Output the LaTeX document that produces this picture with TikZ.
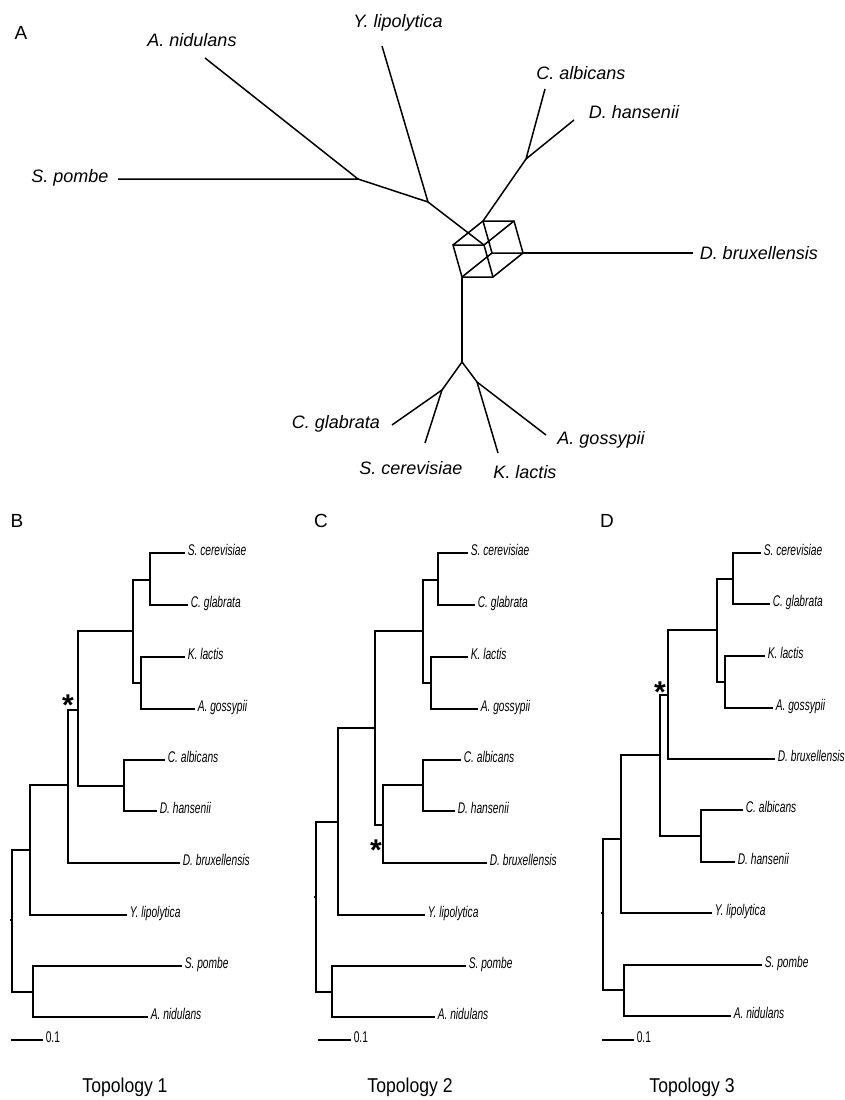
\documentclass[tikz,border=0pt]{standalone}
\usepackage{fontspec}
\setsansfont{Liberation Sans}
\newfontfamily\narrowsf[FakeStretch=0.66]{Liberation Sans}
\newfontfamily\toposf[FakeStretch=0.88]{Liberation Sans}

\begin{document}
\begin{tikzpicture}[x=1pt,y=-1pt,line width=1.5pt]
\tikzstyle{lbl}=[font=\sffamily\itshape\fontsize{18}{20}\selectfont,inner sep=0pt]
\tikzstyle{narrow}=[anchor=west,inner sep=2pt,text height=1.5ex,text depth=0.2ex,font=\narrowsf\fontsize{15.5}{17}\selectfont]
\tikzstyle{taxon}=[narrow,font=\narrowsf\itshape\fontsize{15.5}{17}\selectfont]
\tikzstyle{panel}=[font=\sffamily\fontsize{19}{21}\selectfont]
\tikzstyle{topo}=[font=\toposf\fontsize{20}{22}\selectfont]
\tikzstyle{ast}=[inner sep=0pt,font=\sffamily\bfseries\fontsize{30}{32}\selectfont]

\useasboundingbox (0,0) rectangle (844,1100);

% panel letters
\node[panel] (pA) at (21,33) {A};
\node[panel] (pB) at (17,521) {B};
\node[panel] (pC) at (321,521) {C};
\node[panel] (pD) at (607,521) {D};

% A: splits network
\coordinate (s1) at (358,179);
\coordinate (s2) at (428,202);
\coordinate (s3) at (526,159);
\coordinate (s4) at (462,362);
\coordinate (s5) at (442,390);
\coordinate (s6) at (477,382);
\coordinate (v1) at (462,277);
\coordinate (v2) at (453,245);
\coordinate (v3) at (483,221);
\coordinate (v4) at (514,221);
\coordinate (v5) at (523,253);
\coordinate (v6) at (493,277);
\coordinate (v7) at (484,245);
\coordinate (v8) at (492,253);
\coordinate (tspo) at (118,179);
\coordinate (tani) at (205,58);
\coordinate (tyli) at (382,46);
\coordinate (tcal) at (545,89);
\coordinate (tdha) at (574,120);
\coordinate (tdbr) at (693,253);
\coordinate (tcgl) at (392,425);
\coordinate (tsce) at (425,443);
\coordinate (tkla) at (498,453);
\coordinate (tago) at (546,435);
\node[lbl] (lspo) at (70,178) {S. pombe};
\node[lbl] (lani) at (192,40) {A. nidulans};
\node[lbl] (lyli) at (398,23) {Y. lipolytica};
\node[lbl] (lcal) at (581,73) {C. albicans};
\node[lbl] (ldha) at (634,112) {D. hansenii};
\node[lbl,anchor=west] (ldbr) at (699,253) {D. bruxellensis};
\node[lbl] (lcgl) at (336,424) {C. glabrata};
\node[lbl] (lsce) at (411,468) {S. cerevisiae};
\node[lbl] (lkla) at (525,472) {K. lactis};
\node[lbl] (lago) at (601,440) {A. gossypii};

\path[draw] (tspo) -- (s1) -- (tani);
\path[draw] (s1) -- (s2) -- (tyli);
\path[draw] (s2) -- (v7);
\path[draw] (tcal) -- (s3) -- (tdha);
\path[draw] (s3) -- (v3);
\path[draw] (v5) -- (tdbr);
\path[draw] (v1) -- (s4);
\path[draw] (s4) -- (s5); \path[draw] (s4) -- (s6);
\path[draw] (s5) -- (tcgl); \path[draw] (s5) -- (tsce);
\path[draw] (s6) -- (tkla); \path[draw] (s6) -- (tago);
\path[draw] (v1) -- (v2) -- (v3) -- (v4) -- (v5) -- (v6) -- cycle;
\path[draw] (v2) -- (v7) -- (v4);
\path[draw] (v6) -- (v7);
\path[draw] (v1) -- (v8) -- (v5);
\path[draw] (v3) -- (v8);

% B: topology 1
\coordinate (b0) at (12,920);
\coordinate (b1) at (30,850);
\coordinate (b2) at (68,785);
\coordinate (b3) at (78,710);
\coordinate (b4) at (133,631);
\coordinate (b5) at (150,580);
\coordinate (b6) at (141,683);
\coordinate (b7) at (124,786);
\coordinate (b8) at (33,992);
\node[taxon] (bsce) at (185,553) {S. cerevisiae};
\node[taxon] (bcgl) at (188,605) {C. glabrata};
\node[taxon] (bkla) at (185,657) {K. lactis};
\node[taxon] (bago) at (195,709) {A. gossypii};
\node[taxon] (bcal) at (165,760) {C. albicans};
\node[taxon] (bdha) at (157,811) {D. hansenii};
\node[taxon] (bdbr) at (180,863) {D. bruxellensis};
\node[taxon] (byli) at (127,915) {Y. lipolytica};
\node[taxon] (bspo) at (182,966) {S. pombe};
\node[taxon] (bani) at (148,1017) {A. nidulans};
\node[ast] (bast) at (68,705) {*};

\draw (b0) -- ++(-2,0);
\draw (b0) |- (b1) (b0) |- (b8);
\draw (b1) |- (b2) (b1) |- (byli);
\draw (b2) |- (b3) (b2) |- (bdbr);
\draw (b3) |- (b4) (b3) |- (b7);
\draw (b4) |- (b5) (b4) |- (b6);
\draw (b5) |- (bsce) (b5) |- (bcgl);
\draw (b6) |- (bkla) (b6) |- (bago);
\draw (b7) |- (bcal) (b7) |- (bdha);
\draw (b8) |- (bspo) (b8) |- (bani);

\coordinate (bsb) at (11,1040);
\node[narrow] (bsl) at (43,1040) {0.1};
\draw (bsb) -- (bsl.west);
\node[topo] (t1) at (125,1087) {Topology 1};

% C: topology 2
\coordinate (c0) at (316,897);
\coordinate (c1) at (338,822);
\coordinate (c2) at (375,728);
\coordinate (c3) at (423,631);
\coordinate (c4) at (438,580);
\coordinate (c5) at (431,683);
\coordinate (c6) at (383,825);
\coordinate (c7) at (423,785);
\coordinate (c8) at (332,992);
\node[taxon] (csce) at (468,553) {S. cerevisiae};
\node[taxon] (ccgl) at (475,605) {C. glabrata};
\node[taxon] (ckla) at (468,657) {K. lactis};
\node[taxon] (cago) at (478,709) {A. gossypii};
\node[taxon] (ccal) at (461,760) {C. albicans};
\node[taxon] (cdha) at (455,811) {D. hansenii};
\node[taxon] (cdbr) at (487,863) {D. bruxellensis};
\node[taxon] (cyli) at (425,915) {Y. lipolytica};
\node[taxon] (cspo) at (466,966) {S. pombe};
\node[taxon] (cani) at (435,1017) {A. nidulans};
\node[ast] (cast) at (376,850) {*};

\draw (c0) -- ++(-2,0);
\draw (c0) |- (c1) (c0) |- (c8);
\draw (c1) |- (c2) (c1) |- (cyli);
\draw (c2) |- (c3) (c2) |- (c6);
\draw (c3) |- (c4) (c3) |- (c5);
\draw (c4) |- (csce) (c4) |- (ccgl);
\draw (c5) |- (ckla) (c5) |- (cago);
\draw (c6) |- (c7) (c6) |- (cdbr);
\draw (c7) |- (ccal) (c7) |- (cdha);
\draw (c8) |- (cspo) (c8) |- (cani);

\coordinate (csb) at (318,1040);
\node[narrow] (csl) at (351,1040) {0.1};
\draw (csb) -- (csl.west);
\node[topo] (t2) at (410,1087) {Topology 2};

% D: topology 3
\coordinate (d0) at (603,913);
\coordinate (d1) at (621,839);
\coordinate (d2) at (660,755);
\coordinate (d3) at (668,695);
\coordinate (d4) at (717,630);
\coordinate (d5) at (733,579);
\coordinate (d6) at (725,682);
\coordinate (d7) at (701,836);
\coordinate (d8) at (624,990);
\node[taxon] (dsce) at (761,553) {S. cerevisiae};
\node[taxon] (dcgl) at (770,604) {C. glabrata};
\node[taxon] (dkla) at (765,656) {K. lactis};
\node[taxon] (dago) at (773,708) {A. gossypii};
\node[taxon] (ddbr) at (775,759) {D. bruxellensis};
\node[taxon] (dcal) at (743,810) {C. albicans};
\node[taxon] (ddha) at (735,862) {D. hansenii};
\node[taxon] (dyli) at (712,913) {Y. lipolytica};
\node[taxon] (dspo) at (762,965) {S. pombe};
\node[taxon] (dani) at (731,1016) {A. nidulans};
\node[ast] (dast) at (660,692) {*};

\draw (d0) -- ++(-2,0);
\draw (d0) |- (d1) (d0) |- (d8);
\draw (d1) |- (d2) (d1) |- (dyli);
\draw (d2) |- (d3) (d2) |- (d7);
\draw (d3) |- (d4) (d3) |- (ddbr);
\draw (d4) |- (d5) (d4) |- (d6);
\draw (d5) |- (dsce) (d5) |- (dcgl);
\draw (d6) |- (dkla) (d6) |- (dago);
\draw (d7) |- (dcal) (d7) |- (ddha);
\draw (d8) |- (dspo) (d8) |- (dani);

\coordinate (dsb) at (602,1040);
\node[narrow] (dsl) at (634,1040) {0.1};
\draw (dsb) -- (dsl.west);
\node[topo] (t3) at (692,1087) {Topology 3};
\end{tikzpicture}
\end{document}
